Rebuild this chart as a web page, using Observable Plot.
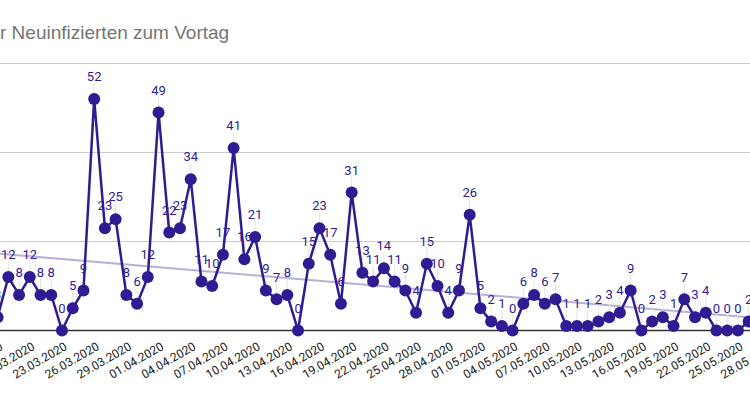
<!DOCTYPE html>
<html><head><meta charset="utf-8">
<script src="https://cdn.jsdelivr.net/npm/d3@7"></script>
<script src="https://cdn.jsdelivr.net/npm/@observablehq/plot@0.6"></script>
<style>
html,body{margin:0;padding:0;background:#fff;overflow:hidden;width:750px;height:393px}
#wrap{position:relative;width:750px;height:393px}
#title{position:absolute;left:0px;top:23px;font-family:"Liberation Sans",Arial,sans-serif;font-size:19px;line-height:19px;color:#757575;white-space:nowrap}
</style></head><body>
<div id="wrap"><div id="chart"></div><div id="title">r Neuinfizierten zum Vortag</div></div>
<script>
const dates = [
"17.03.2020","18.03.2020","19.03.2020","20.03.2020","21.03.2020","22.03.2020","23.03.2020","24.03.2020","25.03.2020","26.03.2020",
"27.03.2020","28.03.2020","29.03.2020","30.03.2020","31.03.2020","01.04.2020","02.04.2020","03.04.2020","04.04.2020","05.04.2020",
"06.04.2020","07.04.2020","08.04.2020","09.04.2020","10.04.2020","11.04.2020","12.04.2020","13.04.2020","14.04.2020","15.04.2020",
"16.04.2020","17.04.2020","18.04.2020","19.04.2020","20.04.2020","21.04.2020","22.04.2020","23.04.2020","24.04.2020","25.04.2020",
"26.04.2020","27.04.2020","28.04.2020","29.04.2020","30.04.2020","01.05.2020","02.05.2020","03.05.2020","04.05.2020","05.05.2020",
"06.05.2020","07.05.2020","08.05.2020","09.05.2020","10.05.2020","11.05.2020","12.05.2020","13.05.2020","14.05.2020","15.05.2020",
"16.05.2020","17.05.2020","18.05.2020","19.05.2020","20.05.2020","21.05.2020","22.05.2020","23.05.2020","24.05.2020","25.05.2020",
"26.05.2020"];
const values = [
3,12,8,12,8,8,0,5,9,52,
23,25,8,6,12,49,22,23,34,11,
10,17,41,16,21,9,7,8,0,15,
23,17,6,31,13,11,14,11,9,4,
15,10,4,9,26,5,2,1,0,6,
8,6,7,1,1,1,2,3,4,9,
0,2,3,1,7,3,4,0,0,0,
2];
// trendline end values
const trendDates = ["17.03.2020", "26.05.2020"];
const trendValues = [17.3, 3.0];
const tickLabels = ["17.03.2020","20.03.2020","23.03.2020","26.03.2020","29.03.2020","01.04.2020","04.04.2020","07.04.2020","10.04.2020","13.04.2020","16.04.2020","19.04.2020","22.04.2020","25.04.2020","28.04.2020","01.05.2020","04.05.2020","07.05.2020","10.05.2020","13.05.2020","16.05.2020","19.05.2020","22.05.2020","25.05.2020","28.05.2020"];
const gridValues = [20, 40, 60];

const parse = d3.utcParse("%d.%m.%Y");
const data = dates.map((d, i) => ({date: parse(d), value: values[i]}));
const trend = trendDates.map((d, i) => ({date: parse(d), value: trendValues[i]}));
const day = 864e5;
const xDomain = [new Date(parse(dates[0]).getTime() + 0.27 * day), new Date(parse(dates[dates.length - 1]).getTime() + 0.17 * day)];

const chart = Plot.plot({
  width: 750, height: 393,
  marginTop: 63, marginBottom: 63, marginLeft: 0, marginRight: 0,
  style: {fontFamily: "Roboto", fontSize: "12px", background: "transparent", color: "#222"},
  x: {type: "utc", domain: xDomain},
  y: {domain: [0, 60], axis: null},
  marks: [
    Plot.ruleY(gridValues, {stroke: "#cccccc", strokeWidth: 1}),
    Plot.line(trend, {x: "date", y: "value", stroke: "#311b92", strokeOpacity: 0.35, strokeWidth: 2}),
    Plot.ruleY([0], {stroke: "#333333", strokeWidth: 1.3}),
    Plot.ruleX(data, {x: "date", y1: "value", y2: "value", insetTop: -16, insetBottom: 0, stroke: "#e4e4e4", strokeWidth: 1}),
    Plot.line(data, {x: "date", y: "value", stroke: "#311b92", strokeWidth: 2.5}),
    Plot.dot(data, {x: "date", y: "value", r: 6, fill: "#311b92"}),
    Plot.text(data, {x: "date", y: "value", text: d => String(d.value), dy: -22, fill: "#311b92", fontSize: 13}),
    Plot.axisX({ticks: tickLabels.map(parse), tickFormat: d3.utcFormat("%d.%m.%Y"), tickRotate: -30, tickSize: 0, tickPadding: 15, dx: 4, label: null, fill: "#222", fontSize: 12})
  ]
});
document.getElementById("chart").appendChild(chart);
</script>
</body></html>
